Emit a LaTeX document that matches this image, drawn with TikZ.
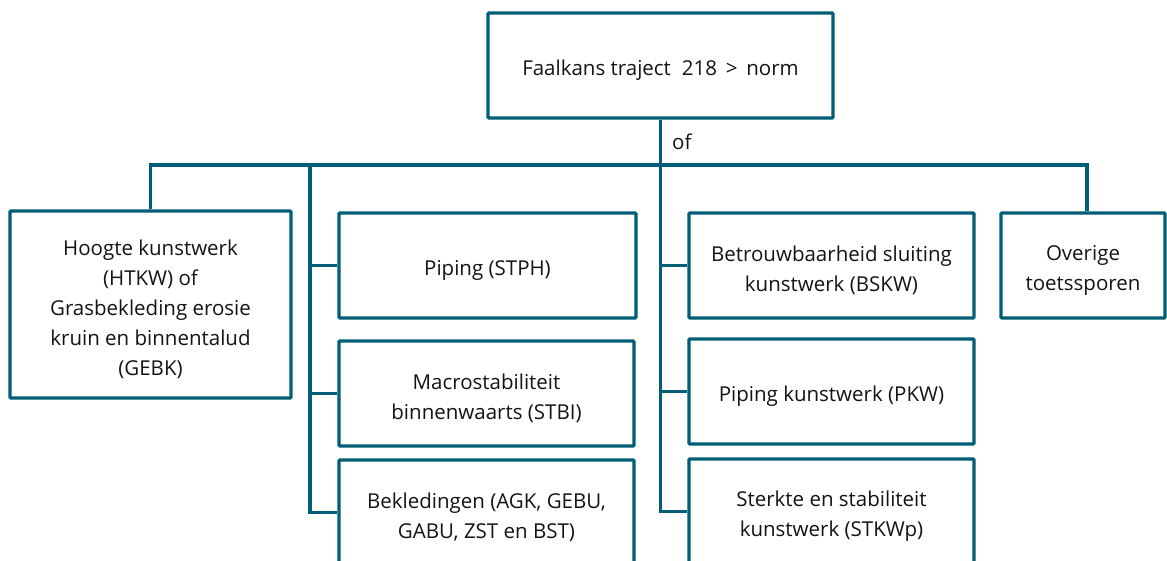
\documentclass[tikz,border=0pt]{standalone}
\usepackage{fontspec}
\setmainfont{Open Sans}
\definecolor{teal}{RGB}{0,94,118}
\newcommand\tstrut{\rule{0pt}{25.5pt}}
\begin{document}
\begin{tikzpicture}[x=1pt,y=-1pt,
  box/.style={draw=teal,line width=3.3pt,rounded corners=1pt,align=center,inner sep=0pt,
    font=\fontsize{20.5}{30}\selectfont,text=black!92},
  conn/.style={draw=teal,line width=3.3pt}]
\clip (0,0) rectangle (1167,560);
\fill[white] (0,0) rectangle (1167,560);
\node[box,minimum width=345pt,minimum height=105pt] (top) at (660.5,65.5) {\tstrut Faalkans traject\; 218 \,>\, norm};
\node[box,minimum width=281pt,minimum height=187pt] (left) at (150.5,304.5) {\tstrut Hoogte kunstwerk\\(HTKW) of\\Grasbekleding erosie\\kruin en binnentalud\\(GEBK)};
\node[box,minimum width=297pt,minimum height=105pt] (piping) at (487.5,265.5) {\tstrut Piping (STPH)};
\node[box,minimum width=295pt,minimum height=105pt] (macro) at (486.5,393.5) {\tstrut Macrostabiliteit\\binnenwaarts (STBI)};
\node[box,minimum width=295pt,minimum height=105pt] (bekl) at (486.5,512.5) {\tstrut Bekledingen (AGK, GEBU,\\GABU, ZST en BST)};
\node[box,minimum width=285pt,minimum height=105pt] (betrouw) at (831.5,265.5) {\tstrut Betrouwbaarheid sluiting\\kunstwerk (BSKW)};
\node[box,minimum width=285pt,minimum height=105pt] (pkw) at (831.5,391.5) {\tstrut Piping kunstwerk (PKW)};
\node[box,minimum width=285pt,minimum height=105pt] (sterkte) at (831.5,511.5) {\tstrut Sterkte en stabiliteit\\kunstwerk (STKWp)};
\node[box,minimum width=164pt,minimum height=105pt] (overige) at (1083,265.5) {\tstrut Overige\\toetssporen};
\coordinate (bus) at (661,165);
\coordinate (lb) at (310,165);
\coordinate (rb) at (1087,165);
\node[font=\fontsize{20.5}{30}\selectfont,text=black!92,anchor=west,inner sep=0pt] (of) at (672,142) {of};
\draw[conn] (left.north) -- (left.north |- bus) -- (rb) -- (rb |- overige.north);
\draw[conn] (top.south) |- (sterkte.west);
\draw[conn] (top.south |- betrouw.west) -- (betrouw.west);
\draw[conn] (top.south |- pkw.west) -- (pkw.west);
\draw[conn] (lb) |- (bekl.west);
\draw[conn] (lb |- piping.west) -- (piping.west);
\draw[conn] (lb |- macro.west) -- (macro.west);
\end{tikzpicture}
\end{document}
